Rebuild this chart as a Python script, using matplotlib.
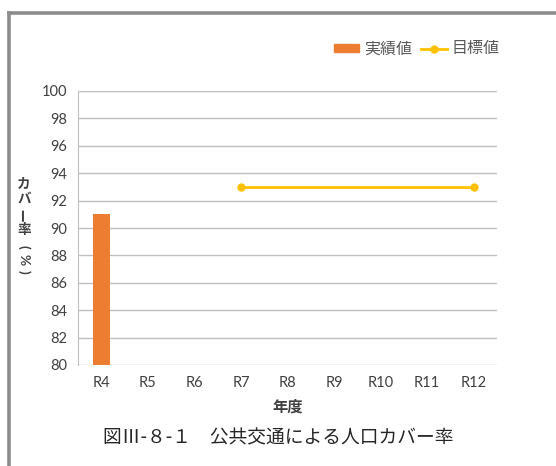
import matplotlib
matplotlib.use("Agg")
import matplotlib.pyplot as plt
from matplotlib.lines import Line2D
from matplotlib.patches import Patch
import numpy as np

years = ["R4", "R5", "R6", "R7", "R8", "R9", "R10", "R11", "R12"]
actual_years = ["R4"]
actual_values = [91]
target_years = ["R7", "R12"]
target_values = [93, 93]
y_ticks = list(range(80, 101, 2))

JP = ["Noto Sans CJK JP", "DejaVu Sans"]
NUM = ["Lato", "Noto Sans CJK JP", "DejaVu Sans"]
ORANGE = "#ED7D31"
GOLD = "#FFC000"
GRID = "#BFBFBF"
TXT = "#404040"

W, H = 556, 466
fig = plt.figure(figsize=(W / 100, H / 100), dpi=100)


def fx(px):
    return px / W


def fy(py):
    return 1 - py / H


# frame around the chart (left and top edges visible)
fig.add_artist(Line2D([fx(8.5), fx(8.5)], [fy(12.5), 0], color="#8C8C8C",
                      lw=2.6, transform=fig.transFigure))
fig.add_artist(Line2D([fx(8.5), 1], [fy(12.5), fy(12.5)], color="#8C8C8C",
                      lw=2.6, transform=fig.transFigure))

ax = fig.add_axes([fx(78), fy(365), fx(497) - fx(78), fy(91) - fy(365)])

x = np.arange(len(years))
idx = {y: i for i, y in enumerate(years)}

ax.bar([idx[y] for y in actual_years], actual_values, width=0.37,
       color=ORANGE, zorder=3)
ax.plot([idx[y] for y in target_years], target_values, color=GOLD, lw=2,
        marker="o", markersize=5, zorder=4)

ax.set_xlim(-0.5, len(years) - 0.5)
ax.set_ylim(80, 100)
ax.set_yticks(y_ticks)
ax.set_xticks(x)
ax.set_xticklabels(years)
ax.grid(axis="y", color=GRID, lw=1, zorder=0)
ax.tick_params(length=0, labelsize=10.5, colors=TXT, pad=8)
for lab in ax.get_xticklabels() + ax.get_yticklabels():
    lab.set_family(NUM)
for s in ["top", "right", "bottom"]:
    ax.spines[s].set_visible(False)
ax.spines["left"].set_color(GRID)

ax.set_xlabel("年度", family=JP, fontsize=11, fontweight="bold",
              color=TXT, labelpad=6)

# stacked vertical y label (katakana upright, bar/brackets/percent turned)
ylabel_chars = [("カ", 184, 0, JP), ("バ", 199, 0, JP), ("ー", 214, 90, JP),
                ("率", 230, 0, JP), ("(", 247, 270, NUM),
                ("%", 260, 270, NUM), (")", 272, 270, NUM)]
for ch, py, rot, fam in ylabel_chars:
    fig.text(fx(24), fy(py), ch, family=fam, fontsize=9.8,
             fontweight="bold", color=TXT, ha="center", va="center",
             rotation=rot)

fig.text(fx(278), fy(438), "図Ⅲ-８-１　公共交通による人口カバー率",
         family=JP, fontsize=13.5, color="#262626", ha="center", va="center")

handles = [Patch(color=ORANGE),
           Line2D([], [], color=GOLD, lw=2, marker="o", markersize=5)]
fig.legend(handles, ["実績値", "目標値"], loc="center right",
           bbox_to_anchor=(fx(511), fy(49)), ncol=2, frameon=False,
           prop={"family": JP, "size": 11.5}, labelcolor="#595959",
           handlelength=1.6, handleheight=0.4, handletextpad=0.3,
           columnspacing=0.6, borderpad=0.2)

fig.savefig("out.png", dpi=100)
